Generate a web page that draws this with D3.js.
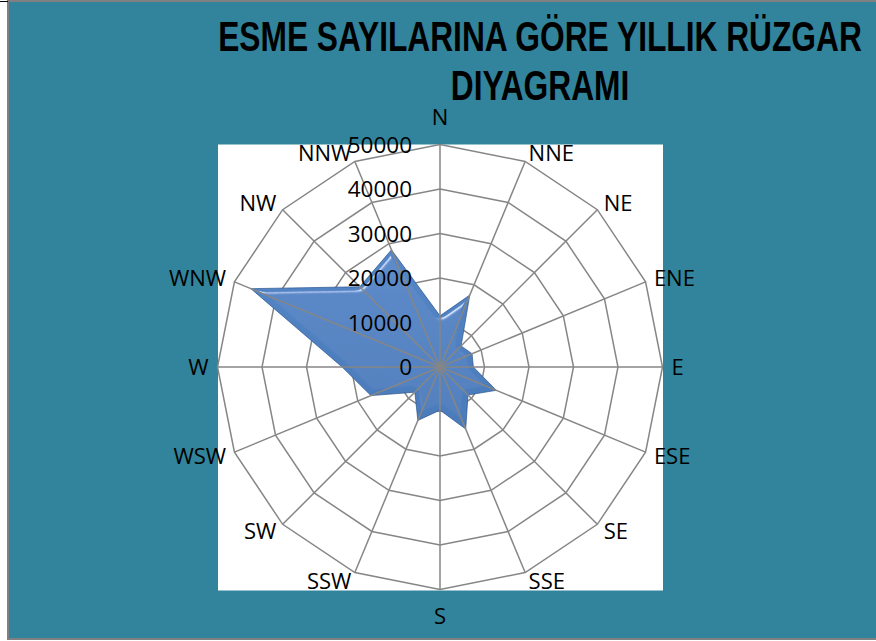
<!DOCTYPE html>
<html>
<head>
<meta charset="utf-8">
<script src="https://cdn.jsdelivr.net/npm/d3@7"></script>
<style>
  html, body { margin: 0; padding: 0; background: #fff; }
  svg { display: block; }
</style>
</head>
<body>
<svg id="chart" width="876" height="641"></svg>
<script>
// wind directions, clockwise from north
const directions = ["N", "NNE", "NE", "ENE", "E", "ESE", "SE", "SSE",
                    "S", "SSW", "SW", "WSW", "W", "WNW", "NW", "NNW"];
// yearly blow counts
const blowCounts = [11500, 17500, 6700, 7800, 7500, 13700, 8900, 15100,
                    9700, 13000, 8000, 16800, 22000, 46000, 25500, 28500];
const radialTicks = [0, 10000, 20000, 30000, 40000, 50000];
const titleLines = ["ESME SAYILARINA GÖRE YILLIK RÜZGAR", "DIYAGRAMI"];

const W = 876, H = 641;
const cx = 440, cy = 367;

const svg = d3.select("#chart");

// background frame
svg.append("rect")
    .attr("x", 8).attr("y", 1)
    .attr("width", W).attr("height", 638)
    .attr("fill", "#31849b")
    .attr("stroke", "#808080")
    .attr("stroke-width", 2);
svg.append("line")
    .attr("x1", 0).attr("x2", 8).attr("y1", 1.5).attr("y2", 1.5)
    .attr("stroke", "#000").attr("stroke-width", 1);

// title: tall condensed bold, squeezed horizontally so line one spans ~644px
const titleG = svg.append("g")
    .attr("font-family", "'Liberation Sans', Arial, sans-serif")
    .attr("font-weight", "bold")
    .attr("font-size", "43px");
const titleRows = titleG.selectAll("g")
    .data(titleLines)
    .enter().append("g");
titleRows.append("text")
    .attr("text-anchor", "middle")
    .attr("fill", "#000")
    .text(d => d);
const w0 = titleRows.select("text").node().getComputedTextLength();
const squeeze = 644 / w0;
titleRows.attr("transform", (d, i) => `translate(540,${51 + i * 49}) scale(${squeeze},1)`);

const r = d3.scaleLinear().domain([0, 50000]).range([0, 222.5]);
const angle = d3.scaleLinear().domain([0, directions.length]).range([0, 2 * Math.PI]);
const R = r(50000);

// plot area
svg.append("rect")
    .attr("x", cx - R + 0.5).attr("y", cy - R)
    .attr("width", 2 * R).attr("height", 2 * R + 1)
    .attr("fill", "#fff");

const defs = svg.append("defs");
const grad = defs.append("linearGradient")
    .attr("id", "fillGrad")
    .attr("x1", 0).attr("y1", 0).attr("x2", 0).attr("y2", 1);
grad.append("stop").attr("offset", "0%").attr("stop-color", "#5486c6");
grad.append("stop").attr("offset", "100%").attr("stop-color", "#4a7aba");

const bevel = defs.append("filter").attr("id", "bevel")
    .attr("x", "-10%").attr("y", "-10%").attr("width", "120%").attr("height", "120%");
bevel.append("feGaussianBlur").attr("in", "SourceAlpha").attr("stdDeviation", 2.5).attr("result", "blur");
bevel.append("feSpecularLighting")
    .attr("in", "blur").attr("surfaceScale", 5).attr("specularConstant", 1.1)
    .attr("specularExponent", 60).attr("lighting-color", "#ffffff").attr("result", "spec")
  .append("fePointLight").attr("x", -5000).attr("y", -8000).attr("z", 12000);
bevel.append("feComposite").attr("in", "spec").attr("in2", "SourceAlpha")
    .attr("operator", "in").attr("result", "specOut");
bevel.append("feComposite").attr("in", "SourceGraphic").attr("in2", "specOut")
    .attr("operator", "arithmetic")
    .attr("k1", 0).attr("k2", 1).attr("k3", 0.55).attr("k4", 0);

const g = svg.append("g").attr("transform", `translate(${cx},${cy})`);

const ring = d3.lineRadial()
    .angle((d, i) => angle(i))
    .radius(d => r(d))
    .curve(d3.curveLinearClosed);

// rings
g.append("g").selectAll("path")
    .data(radialTicks.filter(d => d > 0))
    .enter().append("path")
    .attr("d", t => ring(directions.map(() => t)))
    .attr("fill", "none")
    .attr("stroke", "#868686")
    .attr("stroke-width", 1.5);

// data shape
g.append("path")
    .attr("d", ring(blowCounts))
    .attr("fill", "url(#fillGrad)")
    .attr("stroke", "#2c5590")
    .attr("stroke-width", 1)
    .attr("stroke-opacity", 0.7)
    .attr("filter", "url(#bevel)");

// spokes
g.append("g").selectAll("line")
    .data(directions)
    .enter().append("line")
    .attr("x1", 0).attr("y1", 0)
    .attr("x2", (d, i) => R * Math.sin(angle(i)))
    .attr("y2", (d, i) => -R * Math.cos(angle(i)))
    .attr("stroke", "#868686")
    .attr("stroke-width", 1.5);

// radial tick labels
g.append("g").selectAll("text")
    .data(radialTicks)
    .enter().append("text")
    .attr("x", -28)
    .attr("y", d => -r(d))
    .attr("dy", "0.36em")
    .attr("text-anchor", "end")
    .attr("font-family", "'Open Sans', sans-serif")
    .attr("font-size", "22.5px")
    .attr("fill", "#000")
    .text(d => d);

// direction labels
g.append("g").selectAll("text")
    .data(directions)
    .enter().append("text")
    .each(function (d, i) {
        const s = Math.sin(angle(i)), c = Math.cos(angle(i));
        const vertical = Math.abs(s) < 0.1;
        d3.select(this)
            .attr("x", R * s + 9 * s)
            .attr("y", -R * c - (vertical ? 27 : 9) * c)
            .attr("text-anchor", vertical ? "middle" : (s > 0 ? "start" : "end"));
    })
    .attr("dy", "0.36em")
    .attr("font-family", "'Open Sans', sans-serif")
    .attr("font-size", "22px")
    .attr("fill", "#000")
    .text(d => d);
</script>
</body>
</html>
